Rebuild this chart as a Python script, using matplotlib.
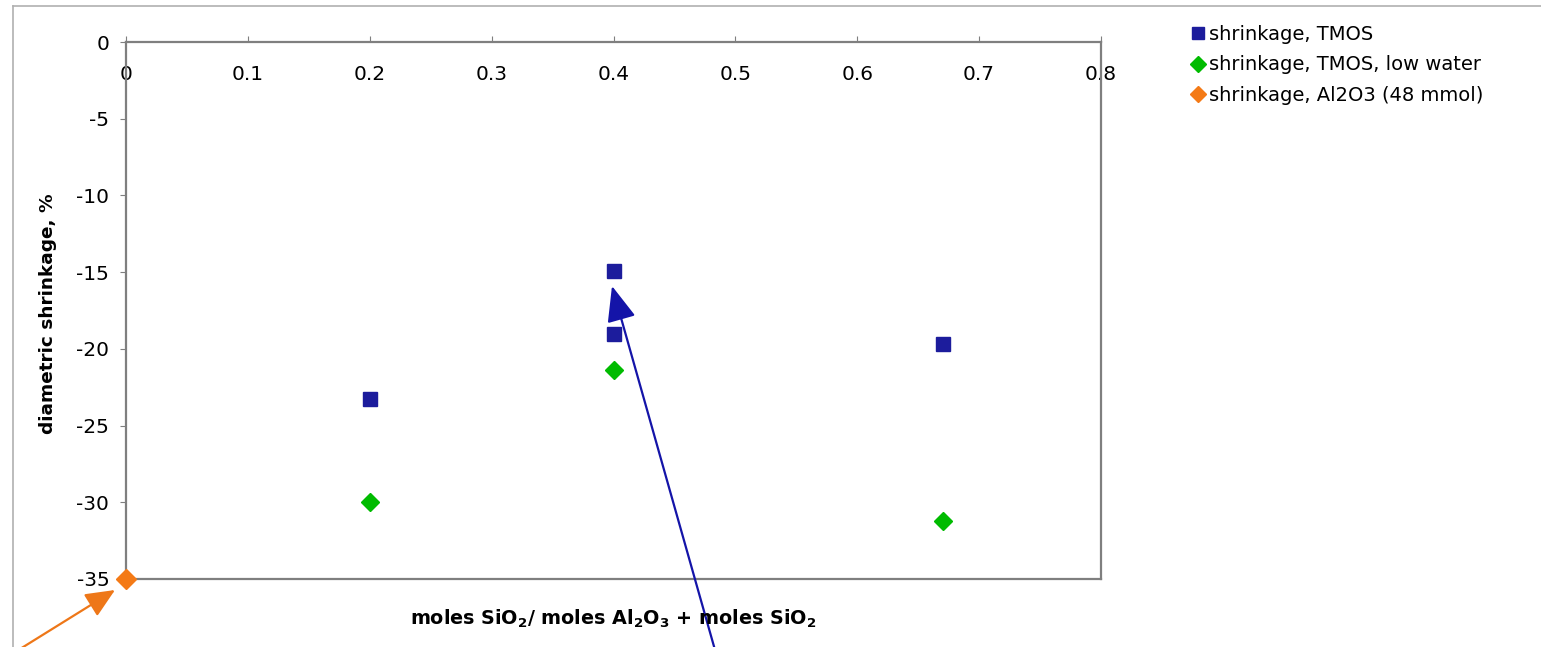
import matplotlib
matplotlib.use("Agg")
import matplotlib.pyplot as plt
from matplotlib.lines import Line2D
from matplotlib.patches import FancyArrowPatch

plt.rcParams['font.family'] = ['DejaVu Sans']
plt.rcParams['font.sans-serif'] = ['DejaVu Sans']
plt.rcParams['mathtext.fontset'] = 'dejavusans'

# Data
tmos_x = [0.2, 0.4, 0.4, 0.67]
tmos_y = [-23.3, -14.9, -19.0, -19.7]
low_x = [0.2, 0.4, 0.67]
low_y = [-30.0, -21.4, -31.2]
al_x = [0.0]
al_y = [-35.0]
xticks = [0, 0.1, 0.2, 0.3, 0.4, 0.5, 0.6, 0.7, 0.8]
xticklabels = ["0", "0.1", "0.2", "0.3", "0.4", "0.5", "0.6", "0.7", "0.8"]
yticks = [0, -5, -10, -15, -20, -25, -30, -35]
labels = ["shrinkage, TMOS", "shrinkage, TMOS, low water", "shrinkage, Al2O3 (48 mmol)"]

W, H = 1541, 647
fig = plt.figure(figsize=(W / 100, H / 100), dpi=100)

# outer frame lines
fig.add_artist(Line2D([13 / W, 1.0], [1 - 6 / H, 1 - 6 / H], color='#b0b0b0', lw=1.2))
fig.add_artist(Line2D([13 / W, 13 / W], [0, 1 - 6 / H], color='#b0b0b0', lw=1.2))

ax = fig.add_axes([126 / W, 1 - 579 / H, (1101 - 126) / W, (579 - 42) / H])
c_blue = '#1c1c9c'
c_green = '#00bb00'
c_orange = '#f47a16'
ax.plot(tmos_x, tmos_y, 's', color=c_blue, ms=10, label=labels[0], clip_on=False)
ax.plot(low_x, low_y, 'D', color=c_green, ms=9, label=labels[1], clip_on=False)
ax.plot(al_x, al_y, 'D', color=c_orange, ms=10, label=labels[2], clip_on=False, zorder=5)

ax.set_xlim(0, 0.8)
ax.set_ylim(-35, 0)
for s in ax.spines.values():
    s.set_color('#7f7f7f')
    s.set_linewidth(1.6)

ax.set_xticks(xticks)
ax.set_xticklabels(xticklabels)
ax.tick_params(axis='x', top=True, bottom=False, labeltop=True, labelbottom=False,
               direction='out', length=4, color='#7f7f7f', pad=-34, labelsize=14.5)
ax.set_yticks(yticks)
ax.set_yticklabels([str(v) for v in yticks])
ax.tick_params(axis='y', direction='out', length=4, color='#7f7f7f', pad=8, labelsize=14.5)

fig.text(48 / W, 1 - 314 / H, 'diametric shrinkage, %', rotation=90, fontsize=13.3,
         fontweight='bold', ha='center', va='center')
fig.text(613 / W, 1 - 619 / H,
         r'moles SiO$_\mathbf{2}$/ moles Al$_\mathbf{2}$O$_\mathbf{3}$ + moles SiO$_\mathbf{2}$',
         fontsize=13.8, fontweight='bold', ha='center', va='center')

leg = fig.legend(loc='upper left', bbox_to_anchor=(1184 / W, 1 - 17 / H), frameon=False,
                 prop={'size': 14}, handlelength=0.6, handletextpad=0.3, labelspacing=0.6,
                 borderaxespad=0)
for h in leg.legend_handles:
    h.set_markersize(8)

# arrows
fig.add_artist(FancyArrowPatch(
    (20 / W, 1 - 649 / H), (115 / W, 1 - 590 / H), transform=fig.transFigure,
    arrowstyle='-|>,head_length=18,head_width=8', color='#ee7718', lw=1.6,
    shrinkA=0, shrinkB=0))
fig.add_artist(FancyArrowPatch(
    (715 / W, 1 - 650 / H), (612 / W, 1 - 286 / H), transform=fig.transFigure,
    arrowstyle='-|>,head_length=22,head_width=9', color='#1414a8', lw=1.6,
    shrinkA=0, shrinkB=0))

fig.savefig('out.png', dpi=100)
